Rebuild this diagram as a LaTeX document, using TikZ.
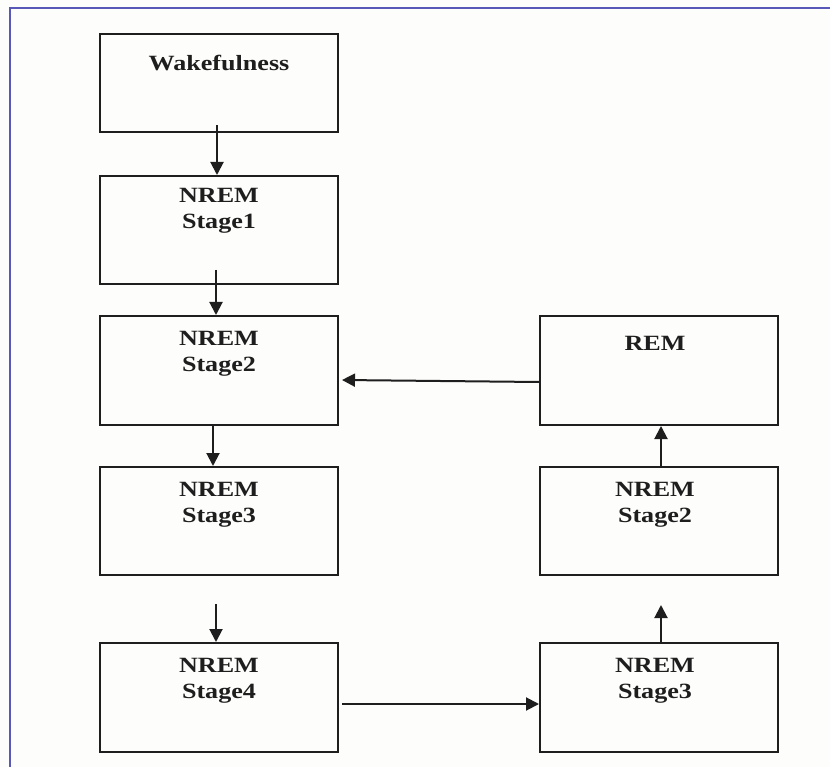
\documentclass[tikz,border=0pt]{standalone}
\usepackage{fontspec}
\setmainfont[FakeStretch=1.2]{Liberation Serif}
\usetikzlibrary{arrows.meta}
\definecolor{frameblue}{RGB}{88,88,184}
\definecolor{ink}{RGB}{30,30,30}
\definecolor{paper}{RGB}{253,253,251}
\tikzset{
  stagebox/.style={draw=ink, line width=2pt, minimum width=238pt, inner sep=0pt, anchor=north west},
  lbl/.style={font=\fontsize{21.75}{26}\selectfont\bfseries, align=center, anchor=north, inner sep=0pt, text=ink},
  arr/.style={draw=ink, line width=2pt, -{Triangle[length=13pt,width=13pt]}}
}
\begin{document}
\begin{tikzpicture}[x=1pt,y=-1pt]
\useasboundingbox (0,0) rectangle (830,767);
\fill[paper] (0,0) rectangle (830,767);
\draw[frameblue, line width=2pt] (10,767) -- (10,8) -- (830,8);

% left column
\node[stagebox, minimum height=98pt]  (w)  at (99,33)  {};
\node[stagebox, minimum height=108pt] (s1) at (99,175) {};
\node[stagebox, minimum height=109pt] (s2) at (99,315) {};
\node[stagebox, minimum height=108pt] (s3) at (99,466) {};
\node[stagebox, minimum height=109pt] (s4) at (99,642) {};
% right column
\node[stagebox, minimum height=109pt] (rem) at (539,315) {};
\node[stagebox, minimum height=108pt] (r2)  at (539,466) {};
\node[stagebox, minimum height=109pt] (r3)  at (539,642) {};

% labels
\node[lbl] (wt)   at ([yshift=-22pt]w.north)   {Wakefulness};
\node[lbl] (s1t)  at ([yshift=-13.5pt]s1.north) {NREM\\Stage1};
\node[lbl] (s2t)  at ([yshift=-16.5pt]s2.north) {NREM\\Stage2};
\node[lbl] (s3t)  at ([yshift=-16.5pt]s3.north) {NREM\\Stage3};
\node[lbl] (s4t)  at ([yshift=-16.5pt]s4.north) {NREM\\Stage4};
\node[lbl] (remt) at ([xshift=-4pt,yshift=-21.5pt]rem.north) {REM};
\node[lbl] (r2t)  at ([xshift=-4pt,yshift=-16.5pt]r2.north) {NREM\\Stage2};
\node[lbl] (r3t)  at ([xshift=-4pt,yshift=-16.5pt]r3.north) {NREM\\Stage3};

% connectors
\draw[arr] ([xshift=-2pt,yshift=8pt]w.south) -- ([xshift=-2pt]s1.north);
\draw[arr] ([xshift=-3pt,yshift=15pt]s1.south) -- ([xshift=-3pt]s2.north);
\draw[arr] ([xshift=-6pt]s2.south) -- ([xshift=-6pt]s3.north);
\draw[arr] ([xshift=-3pt,yshift=-28pt]s3.south) -- ([xshift=-3pt]s4.north);
\draw[arr] ([xshift=3pt,yshift=-6.5pt]s4.east) -- ([yshift=-6.5pt]r3.west);
\draw[arr] ([xshift=2pt]r3.north) -- ([xshift=2pt,yshift=-29pt]r2.south);
\draw[arr] ([xshift=2pt]r2.north) -- ([xshift=2pt]rem.south);
\draw[arr] ([yshift=-11.5pt]rem.west) -- ([xshift=3pt,yshift=-9.5pt]s2.east);
\end{tikzpicture}
\end{document}
